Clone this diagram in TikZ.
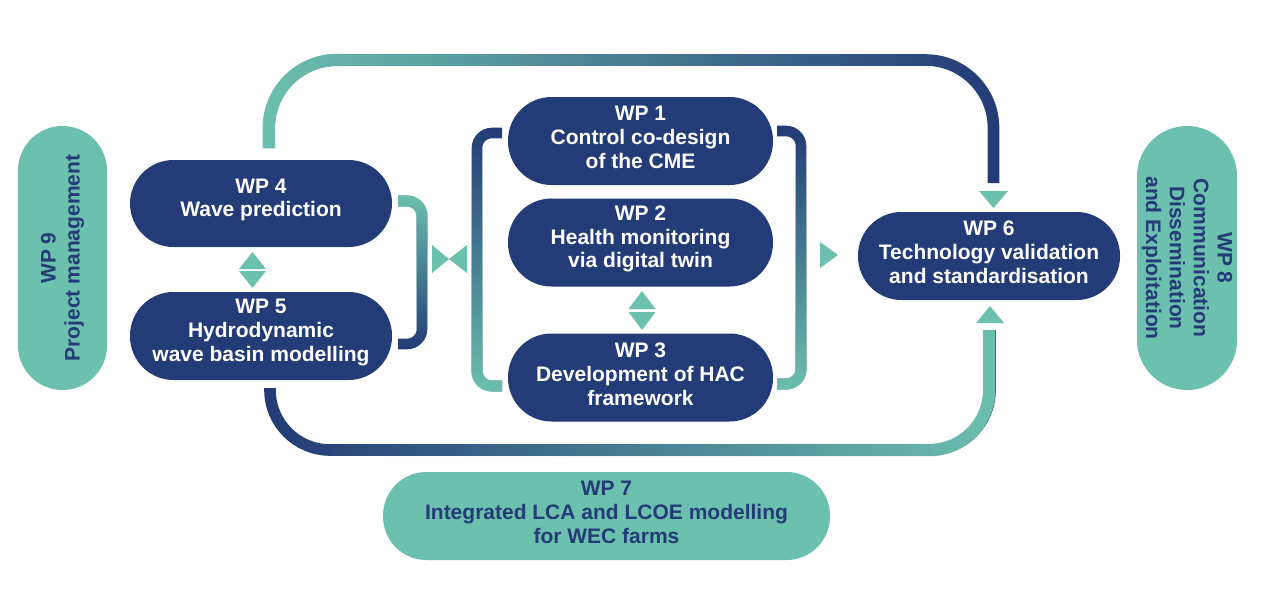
\documentclass[tikz,border=0pt]{standalone}
\usepackage{fontspec}
\setmainfont{Liberation Sans}
\usetikzlibrary{fadings}
\definecolor{wpblue}{RGB}{35,59,118}
\definecolor{wpgreen}{RGB}{108,192,174}
\tikzset{
  wptext/.style={inner sep=0pt, align=center, font=\fontsize{21}{23.8}\selectfont\bfseries},
  wpbox/.style={rectangle, rounded corners=43.5pt, minimum width=263pt, minimum height=88pt,
    inner sep=0pt, wptext},
  bluebox/.style={wpbox, fill=wpblue, text=white},
  greenbox/.style={wpbox, fill=wpgreen, text=wpblue},
  btext/.style={label={[wptext, text=white, yshift=3.5pt]center:{#1}}},
  gtext/.style={label={[wptext, text=wpblue, yshift=3.5pt]center:{#1}}},
  arcbase/.style={line width=11.6pt},
  arctop/.style={line width=12.4pt},
  brkbase/.style={line width=10.6pt, rounded corners=15pt},
  brktop/.style={line width=11.4pt, rounded corners=15pt},
  tri/.style={fill=wpgreen}
}
\begin{document}
\begin{tikzpicture}[x=1pt,y=-1pt]
\useasboundingbox (0,0) rectangle (1269,598);
\fill[white] (0,0) rectangle (1269,598);

% side boxes
\node[greenbox, rotate=90, minimum width=264pt, minimum height=89pt, rounded corners=44.5pt] (wp9) at (62.5,258) {WP 9\\Project management};
\node[greenbox, rotate=-90, minimum width=264pt, minimum height=100pt, rounded corners=50pt] (wp8) at (1187,258) {WP 8\\Communication\\Dissemination\\and Exploitation};

% main boxes
\node[bluebox, minimum width=262pt, minimum height=87pt, btext={WP 4\\Wave prediction}] (wp4) at (261,203.5) {};
\node[bluebox, minimum width=262pt, btext={WP 5\\Hydrodynamic\\wave basin modelling}] (wp5) at (261,336) {};
\node[bluebox, minimum width=265pt, btext={WP 1\\Control co-design\\of the CME}] (wp1) at (640.5,141) {};
\node[bluebox, minimum width=265pt, btext={WP 2\\Health monitoring\\via digital twin}] (wp2) at (640.5,242.5) {};
\node[bluebox, minimum width=265pt, btext={WP 3\\Development of HAC\\framework}] (wp3) at (640.5,377.5) {};
\node[bluebox, minimum width=262pt, btext={WP 6\\Technology validation\\and standardisation}] (wp6) at (989,256) {};
\node[greenbox, minimum width=447pt, gtext={WP 7\\Integrated LCA and LCOE modelling\\for WEC farms}] (wp7) at (606.5,516) {};

% connector end points
\coordinate (ta) at (269,148);
\coordinate (tb) at (993.5,183);
\coordinate (ba) at (270,388);
\coordinate (bb) at (990,330);

% top arc: green -> blue
\draw[arcbase, wpblue, rounded corners=68pt] (ta) -- (ta |- 0,60) -- (tb |- 0,60) -- (tb);
\draw[arctop, wpgreen, rounded corners=68pt, path fading=east] (ta) -- (ta |- 0,60) -- (tb |- 0,60) -- (tb);

% bottom arc: blue -> green
\draw[arcbase, wpblue, rounded corners=60pt] (ba) -- (ba |- 0,450) -- (bb |- 0,450) -- (bb);
\draw[arctop, wpgreen, rounded corners=60pt, path fading=west] (ba) -- (ba |- 0,450) -- (bb |- 0,450) -- (bb);

% small bracket WP4-WP5: green -> blue
\coordinate (s1) at (398,201);
\coordinate (s2) at (398,344);
\draw[brkbase, wpblue] (s1) -- (422,201) -- (422,344) -- (s2);
\draw[brktop, wpgreen, path fading=south] (s1) -- (422,201) -- (422,344) -- (s2);

% left bracket WP1-WP3: blue -> green
\coordinate (l1) at (502,133);
\coordinate (l2) at (502,386);
\draw[brkbase, wpblue] (l1) -- (477,133) -- (477,386) -- (l2);
\draw[brktop, wpgreen, path fading=north] (l1) -- (477,133) -- (477,386) -- (l2);

% right bracket WP1-WP3: blue -> green
\coordinate (r1) at (777,131);
\coordinate (r2) at (777,384);
\draw[brkbase, wpblue] (r1) -- (801,131) -- (801,384) -- (r2);
\draw[brktop, wpgreen, path fading=north] (r1) -- (801,131) -- (801,384) -- (r2);

% arrowheads
\fill[tri] (432,245) -- (449,259) -- (432,273) -- cycle;
\fill[tri] (467,245) -- (449,259) -- (467,273) -- cycle;
\fill[tri] (820,242) -- (838,255) -- (820,268) -- cycle;
\fill[tri] (239,269) -- (252.5,252) -- (266,269) -- cycle;
\fill[tri] (239,271) -- (252.5,288) -- (266,271) -- cycle;
\fill[tri] (628.5,309) -- (642,291) -- (655.5,309) -- cycle;
\fill[tri] (628.5,312) -- (642,330) -- (655.5,312) -- cycle;
\fill[tri] (979,191) -- (993.5,208) -- (1008,191) -- cycle;
\fill[tri] (976,323) -- (990,306) -- (1004,323) -- cycle;
\end{tikzpicture}
\end{document}
